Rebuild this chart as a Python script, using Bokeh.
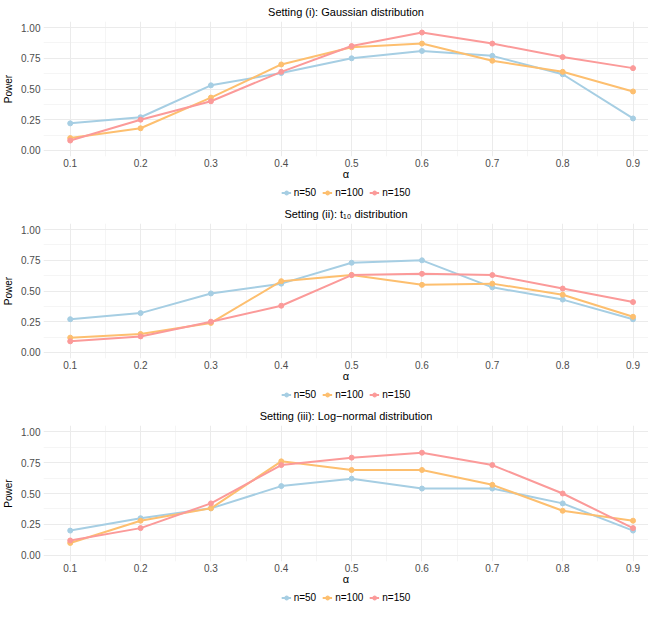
from bokeh.plotting import figure
from bokeh.models import FixedTicker, Legend, LegendItem, Range1d, NumeralTickFormatter
from bokeh.layouts import column
from bokeh.embed import file_html
from bokeh.resources import INLINE

# ---- data ----
alpha_vals = [0.1, 0.2, 0.3, 0.4, 0.5, 0.6, 0.7, 0.8, 0.9]
power_ticks = [0.0, 0.25, 0.5, 0.75, 1.0]
series_labels = ["n=50", "n=100", "n=150"]

gauss_n50 = [0.22, 0.27, 0.53, 0.63, 0.75, 0.81, 0.77, 0.62, 0.26]
gauss_n100 = [0.10, 0.18, 0.43, 0.70, 0.84, 0.87, 0.73, 0.64, 0.48]
gauss_n150 = [0.08, 0.25, 0.40, 0.64, 0.85, 0.96, 0.87, 0.76, 0.67]

t10_n50 = [0.27, 0.32, 0.48, 0.56, 0.73, 0.75, 0.53, 0.43, 0.27]
t10_n100 = [0.12, 0.15, 0.24, 0.58, 0.63, 0.55, 0.56, 0.47, 0.29]
t10_n150 = [0.09, 0.13, 0.25, 0.38, 0.63, 0.64, 0.63, 0.52, 0.41]

lognorm_n50 = [0.20, 0.30, 0.38, 0.56, 0.62, 0.54, 0.54, 0.42, 0.20]
lognorm_n100 = [0.10, 0.28, 0.38, 0.76, 0.69, 0.69, 0.57, 0.36, 0.28]
lognorm_n150 = [0.12, 0.22, 0.42, 0.73, 0.79, 0.83, 0.73, 0.50, 0.22]

titles = [
    "Setting (i): Gaussian distribution",
    "Setting (ii): t\u2081\u2080 distribution",
    "Setting (iii): Log\u2212normal distribution",
]

colors = ["#A6CEE3", "#FDBF6F", "#FB9A99"]
FONT = "Liberation Sans"
LEFT = 37


def make_panel(title, series, main_h):
    p = figure(width=648, height=main_h, output_backend="svg", toolbar_location=None,
               x_range=Range1d(0.062, 0.922), y_range=Range1d(-0.05, 1.05),
               min_border_left=LEFT, min_border_right=0, min_border_top=0,
               min_border_bottom=0)
    p.title.text = title
    p.title.align = "center"
    p.title.text_font = FONT
    p.title.text_font_size = "11px"
    p.title.text_font_style = "normal"
    p.title.text_color = "#000000"
    p.title.standoff = 7
    p.outline_line_color = None

    x_minor = [(a + b) / 2 for a, b in zip(alpha_vals[:-1], alpha_vals[1:])]
    y_minor = [(a + b) / 2 for a, b in zip(power_ticks[:-1], power_ticks[1:])]
    p.xaxis.ticker = FixedTicker(ticks=alpha_vals, minor_ticks=x_minor)
    p.yaxis.ticker = FixedTicker(ticks=power_ticks, minor_ticks=y_minor)
    p.xaxis.formatter = NumeralTickFormatter(format="0.0")
    p.yaxis.formatter = NumeralTickFormatter(format="0.00")

    for ax in (p.xaxis, p.yaxis):
        ax.axis_line_color = None
        ax.major_tick_line_color = None
        ax.minor_tick_line_color = None
        ax.major_tick_out = 0
        ax.minor_tick_out = 0
        ax.major_tick_in = 0
        ax.minor_tick_in = 0
        ax.major_label_text_font = FONT
        ax.major_label_text_font_size = "10px"
        ax.major_label_text_color = "#4D4D4D"
        ax.major_label_standoff = 3
        ax.axis_label_text_font = FONT
        ax.axis_label_text_font_style = "normal"
        ax.axis_label_text_color = "#000000"
    p.xaxis.major_label_standoff = 2
    p.xaxis.axis_label = "\u03b1"
    p.xaxis.axis_label_text_font_size = "11px"
    p.xaxis.axis_label_standoff = -2
    p.yaxis.axis_label = "Power"
    p.yaxis.axis_label_text_font_size = "10px"
    p.yaxis.axis_label_standoff = 4

    for g in (p.xgrid, p.ygrid):
        g.grid_line_color = "#EBEBEB"
        g.grid_line_width = 1
        g.minor_grid_line_color = "#EBEBEB"
        g.minor_grid_line_width = 0.5

    for vals, col in zip(series, colors):
        p.line(alpha_vals, vals, line_color=col, line_width=2)
        p.scatter(alpha_vals, vals, size=5, fill_color=col, line_color=col)

    # legend strip under the panel (its glyphs lie outside the strip's range)
    q = figure(width=648, height=20, output_backend="svg", toolbar_location=None,
               x_range=Range1d(0, 1), y_range=Range1d(5, 6),
               min_border_left=LEFT, min_border_right=0, min_border_top=0,
               min_border_bottom=0)
    q.axis.visible = False
    q.grid.visible = False
    q.outline_line_color = None
    items = []
    for lab, vals, col in zip(series_labels, series, colors):
        r1 = q.line(alpha_vals, vals, line_color=col, line_width=2)
        r2 = q.scatter(alpha_vals, vals, size=5, fill_color=col, line_color=col)
        items.append(LegendItem(label=lab, renderers=[r1, r2]))
    leg = Legend(items=items, orientation="horizontal", location="center")
    leg.label_text_font = FONT
    leg.label_text_font_size = "10px"
    leg.label_text_color = "#000000"
    leg.glyph_width = 10
    leg.glyph_height = 10
    leg.label_standoff = 3
    leg.label_height = 10
    leg.spacing = 6
    leg.padding = 0
    leg.margin = 0
    leg.border_line_color = None
    leg.background_fill_alpha = 0
    q.add_layout(leg)
    return [p, q]


figs = []
for t, s, h in zip(titles, [[gauss_n50, gauss_n100, gauss_n150],
                            [t10_n50, t10_n100, t10_n150],
                            [lognorm_n50, lognorm_n100, lognorm_n150]],
                   [182, 182, 183]):
    figs.extend(make_panel(t, s, h))

layout = column(*figs, spacing=0)
open("out.html", "w").write(file_html(layout, INLINE))
